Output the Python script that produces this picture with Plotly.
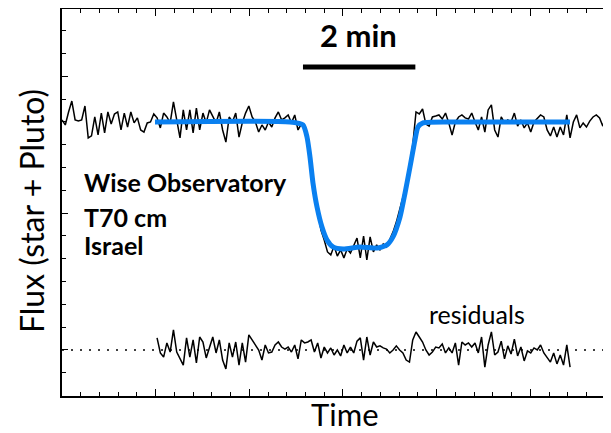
import plotly.graph_objects as go

# ---- data ----
cadence_s = 3.5  # seconds between frames
flux = [
    1.009, 0.987, 1.044, 1.092, 1.009, 1.004, 1.009, 1.070, 0.930, 0.939,
    1.022, 0.943, 1.039, 0.952, 1.044, 0.991, 1.035, 1.044, 0.965, 1.039,
    0.978, 1.044, 0.996, 1.018, 0.965, 0.956, 0.996, 1.000, 1.035, 1.018,
    0.974, 1.039, 1.022, 0.996, 1.088, 1.013, 0.930, 1.053, 0.965, 1.053,
    0.952, 1.061, 0.965, 1.039, 0.996, 1.053, 1.022, 0.996, 1.044, 0.965,
    0.912, 1.022, 1.000, 1.039, 0.934, 0.996, 1.039, 1.070, 1.022, 1.000,
    0.956, 0.987, 0.965, 1.000, 0.978, 1.018, 1.044, 1.009, 1.018, 1.031,
    0.996, 1.031, 0.965, 0.991, 0.974, 0.899, 0.781, 0.693, 0.623, 0.526,
    0.482, 0.430, 0.417, 0.456, 0.412, 0.439, 0.404, 0.443, 0.425, 0.456,
    0.491, 0.404, 0.500, 0.395, 0.496, 0.430, 0.461, 0.439, 0.465, 0.452,
    0.482, 0.518, 0.561, 0.614, 0.667, 0.724, 0.811, 0.899, 1.044, 1.035,
    1.057, 0.991, 0.982, 1.022, 1.026, 1.031, 1.013, 1.039, 0.996, 0.943,
    1.000, 1.022, 1.031, 1.018, 1.013, 1.039, 1.000, 0.965, 1.022, 0.956,
    1.053, 1.075, 0.965, 0.934, 1.022, 0.996, 1.009, 1.000, 1.039, 0.982,
    1.009, 0.974, 0.996, 0.956, 1.000, 1.018, 1.031, 1.022, 0.965, 0.939,
    0.978, 0.934, 0.978, 0.943, 1.031, 0.930, 1.000, 1.031, 0.974, 0.996,
    0.978, 1.004, 1.022, 1.031, 1.018, 0.982, 1.031, 1.013,
]
time_s = [round(cadence_s * i, 1) for i in range(len(flux))]

resid_first_frame = 29
residuals = [
    0.053, -0.013, -0.031, 0.031, -0.009, 0.088, -0.009, -0.035, -0.066, 0.053,
    -0.031, 0.044, -0.057, 0.057, 0.035, -0.035, 0.013, 0.057, -0.013, 0.044,
    -0.044, -0.083, 0.031, -0.031, 0.035, -0.066, 0.031, -0.053, 0.066, 0.044,
    0.022, 0.000, -0.044, 0.022, -0.013, -0.009, 0.022, 0.035, 0.013, 0.004,
    0.013, -0.009, 0.022, -0.039, 0.044, 0.031, 0.035, 0.044, -0.009, 0.031,
    -0.035, 0.013, -0.013, 0.009, -0.022, 0.000, -0.026, 0.022, -0.013, 0.013,
    -0.013, 0.039, 0.053, -0.044, 0.057, -0.022, 0.035, 0.013, 0.018, 0.009,
    0.004, -0.013, 0.000, 0.018, 0.000, -0.013, -0.044, -0.053, 0.044, 0.079,
    0.057, 0.035, 0.000, -0.022, -0.009, 0.013, 0.009, 0.026, -0.013, 0.009,
    -0.013, 0.031, -0.066, 0.035, 0.022, 0.031, 0.013, 0.031, -0.013, 0.057,
    -0.075, 0.022, 0.079, -0.022, -0.009, 0.039, -0.039, 0.018, -0.018, 0.048,
    -0.026, 0.013, -0.048, -0.004, -0.013, 0.009, 0.000, 0.022, -0.013, -0.031,
    -0.053, -0.013, -0.061, -0.022, -0.066, 0.022, -0.075,
]
resid_time_s = [time_s[resid_first_frame + i] for i in range(len(residuals))]

model_time_s = [99.3, 243.5, 257.3, 261.6, 264.8, 268.0, 272.3, 277.6, 283.0,
                289.4, 300.1, 318.2, 336.4, 347.0, 353.4, 360.9, 366.3, 371.6,
                376.9, 380.1, 385.5, 414.3, 542.4]
model_flux = [1.000, 1.000, 0.987, 0.934, 0.846, 0.732, 0.627, 0.539, 0.482,
              0.452, 0.443, 0.452, 0.447, 0.461, 0.496, 0.583, 0.689, 0.803,
              0.921, 0.978, 0.996, 1.000, 1.000]

scale_bar_start_s = 257.3
scale_bar_len_s = 120.0

# ---- figure ----
FONT = "Lato"
X_MAX = 586.2
fig = go.Figure()

fig.add_trace(go.Scatter(
    x=[0, X_MAX], y=[0, 0], mode="lines",
    line=dict(color="black", width=1.5, dash="2px,7px"),
    hoverinfo="skip", showlegend=False))

fig.add_trace(go.Scatter(
    x=time_s, y=flux, mode="lines",
    line=dict(color="black", width=1.5), showlegend=False))

fig.add_trace(go.Scatter(
    x=resid_time_s, y=residuals, mode="lines",
    line=dict(color="black", width=1.5), showlegend=False))

fig.add_trace(go.Scatter(
    x=model_time_s, y=model_flux, mode="lines",
    line=dict(color="#0a80f0", width=5, shape="spline", smoothing=0.6),
    showlegend=False))

fig.add_shape(type="line", xref="x", yref="y",
              x0=scale_bar_start_s, x1=scale_bar_start_s + scale_bar_len_s,
              y0=1.241, y1=1.241, line=dict(color="black", width=5))

anns = [
    dict(x=316.1, y=1.382, text="<b>2 min</b>", size=31, xanchor="center"),
    dict(x=21.4, y=0.737, text="<b>Wise Observatory</b>", size=25, xanchor="left"),
    dict(x=21.4, y=0.583, text="<b>T70 cm</b>", size=25, xanchor="left"),
    dict(x=21.4, y=0.461, text="<b>Israel</b>", size=25, xanchor="left"),
    dict(x=443.1, y=0.158, text="residuals", size=25, xanchor="center"),
]
for a in anns:
    fig.add_annotation(x=a["x"], y=a["y"], xref="x", yref="y", text=a["text"],
                       showarrow=False, xanchor=a["xanchor"], yanchor="middle",
                       font=dict(family=FONT, size=a["size"], color="black"))

# axis titles as paper-positioned annotations (plot area = 549 x 387 px)
fig.add_annotation(x=(31 - 62) / 549, y=(396 - 211) / 387, xref="paper", yref="paper",
                   text="Flux (star + Pluto)", showarrow=False, textangle=-90,
                   xanchor="center", yanchor="middle", borderpad=0,
                   font=dict(family=FONT, size=32, color="black"))
fig.add_annotation(x=(345 - 62) / 549, y=(396 - 414) / 387, xref="paper", yref="paper",
                   text="Time", showarrow=False, xanchor="center", yanchor="middle",
                   borderpad=0,
                   font=dict(family=FONT, size=31, color="black"))

axis_common = dict(showgrid=False, zeroline=False, showticklabels=False,
                   showline=True, linecolor="black", linewidth=2,
                   ticks="inside", tickcolor="black", tickwidth=1.3)

fig.update_xaxes(range=[0, X_MAX], tick0=0, dtick=100, ticklen=7, mirror="ticks",
                 minor=dict(dtick=20, ticks="inside", ticklen=4, tickcolor="black", tickwidth=1.3),
                 **axis_common)
fig.update_yaxes(range=[-0.2018, 1.4956], tick0=0, dtick=0.6, ticklen=6,
                 minor=dict(dtick=0.1, ticks="inside", ticklen=4, tickcolor="black", tickwidth=1.3),
                 **axis_common)

# page has an 8px body margin: size/margins chosen so the plot area lands at 62..611 x 9..396
fig.update_layout(width=603, height=425, margin=dict(l=54, r=0, t=1, b=37),
                  plot_bgcolor="white", paper_bgcolor="white",
                  font=dict(family=FONT))

fig.write_html("out.html")
